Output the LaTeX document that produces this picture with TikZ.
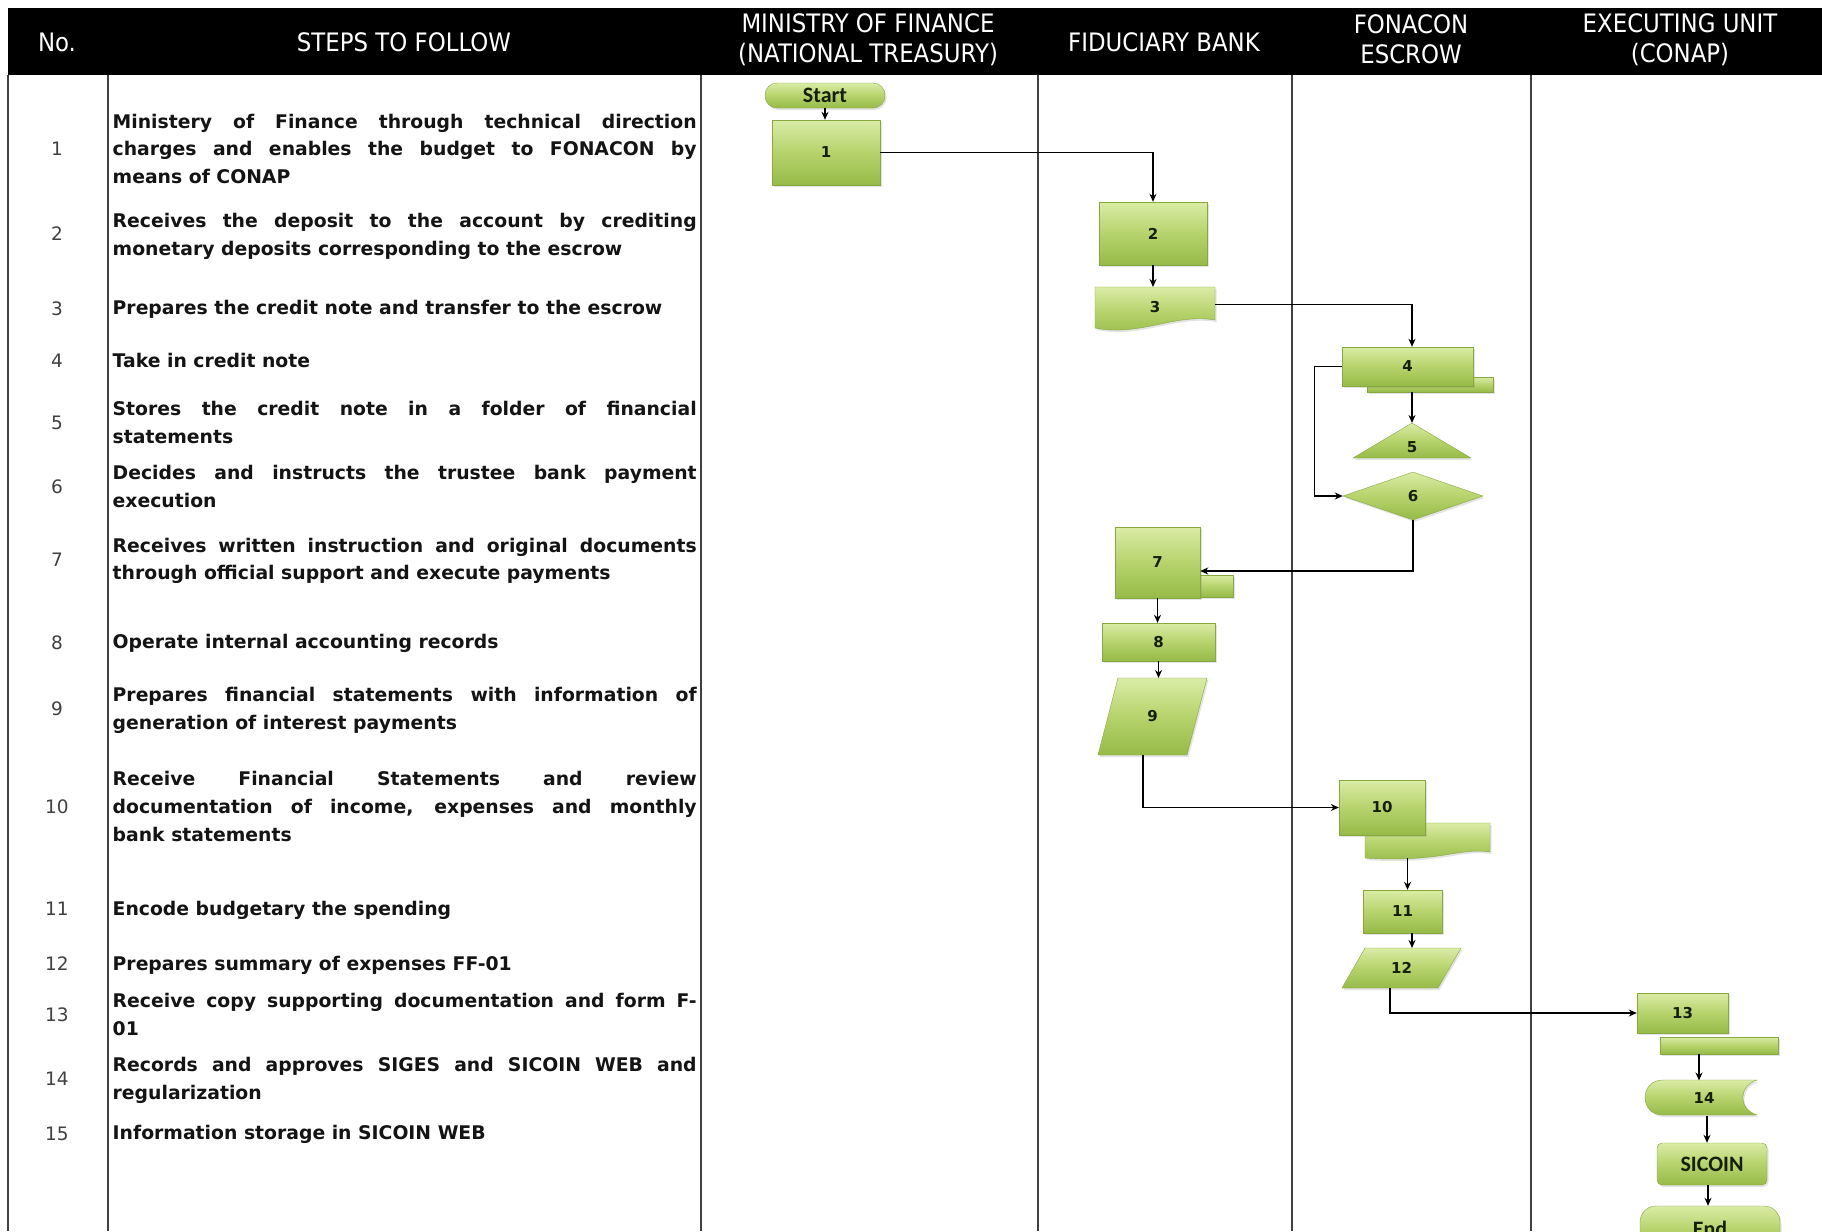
\documentclass[tikz,border=0pt]{standalone}
\usepackage{fontspec}
\setmainfont{DejaVu Sans}
\newfontfamily\txtfamily{DejaVu Sans}
\newfontfamily\hdrfamily[FakeStretch=0.9]{DejaVu Sans}
\newfontfamily\calfamily{Carlito}
\usetikzlibrary{shapes.geometric,shadows,arrows.meta}
\definecolor{gtop}{HTML}{DAECA6}
\definecolor{gmid}{HTML}{B6D36C}
\definecolor{gbot}{HTML}{96BA48}
\definecolor{gedge}{HTML}{86A83E}
\definecolor{lbltext}{HTML}{15200A}
\newcommand\lblf{\txtfamily\bfseries\fontsize{15}{18}\selectfont}
\newcommand\txtf{\txtfamily\bfseries\fontsize{18.8}{27.9}\selectfont}
\newcommand\numf{\txtfamily\fontsize{18.5}{22}\selectfont}
\newcommand\hdrf{\hdrfamily\fontsize{25.4}{30}\selectfont}
\newcommand\calf{\calfamily\bfseries\fontsize{22}{26}\selectfont}
\newcommand\jl[1]{\makebox[584pt][s]{#1}}
\newcommand\steptext[1]{\parbox[t]{584pt}{#1}}
\tikzset{
  gfill/.style={top color=gtop, bottom color=gbot, middle color=gmid, draw=gedge, line width=0.4pt},
  shad/.style={drop shadow={opacity=0.22, shadow xshift=1.5pt, shadow yshift=-2pt}},
  fbox/.style={gfill, shad, rectangle, inner sep=0pt, font=\lblf, text=lbltext},
  lbl/.style={inner sep=0pt, outer sep=0pt, font=\lblf, text=lbltext},
  conn/.style={draw=black, line width=1.3pt, -{Stealth[length=8pt,width=7pt]}},
  gridline/.style={draw=black!75, line width=1.6pt},
  num/.style={anchor=base, font=\numf, text=black!75, inner sep=0pt},
  stxt/.style={anchor=base west, font=\txtf, text=black!92, inner sep=0pt},
  hdr/.style={font=\hdrf, text=white, align=center, inner sep=0pt},
}
\begin{document}
\begin{tikzpicture}[x=1pt,y=-1pt]
\useasboundingbox (0,0) rectangle (1822,1231);
\fill[white] (0,0) rectangle (1822,1231);
% header
\fill[black] (8,8) rectangle (1822,75);
\node[hdr] (hNo) at (57,42) {No.};
\node[hdr] (hSteps) at (404,42) {STEPS TO FOLLOW};
\node[hdr] (hMin) at (868,39.5) {MINISTRY OF FINANCE\\(NATIONAL TREASURY)};
\node[hdr] (hBank) at (1164,42) {FIDUCIARY BANK};
\node[hdr] (hFon) at (1411,39.5) {FONACON\\ESCROW};
\node[hdr] (hExe) at (1680,39.5) {EXECUTING UNIT\\(CONAP)};
% grid
\foreach \gx in {8,108,701,1038,1292,1531} {\draw[gridline] (\gx,75) -- (\gx,1231);}
% numbers
\foreach \nn/\ny in {1/155.7,2/240.6,3/315,4/367,5/429,6/493.5,7/566.5,8/649,9/715,10/813.5,11/915.5,12/970.5,13/1021,14/1085.3,15/1140}
  {\node[num] (num\nn) at (57,\ny) {\nn};}
% step texts
\node[stxt] (s1) at (112.5,128) {\steptext{\jl{Ministery of Finance through technical direction}\\\jl{charges and enables the budget to FONACON by}\\means of CONAP}};
\node[stxt] (s2) at (112.5,227.5) {\steptext{\jl{Receives the deposit to the account by crediting}\\monetary deposits corresponding to the escrow}};
\node[stxt] (s3) at (112.5,314.8) {\steptext{Prepares the credit note and transfer to the escrow}};
\node[stxt] (s4) at (112.5,367) {\steptext{Take in credit note}};
\node[stxt] (s5) at (112.5,415.5) {\steptext{\jl{Stores the credit note in a folder of financial}\\statements}};
\node[stxt] (s6) at (112.5,479.5) {\steptext{\jl{Decides and instructs the trustee bank payment}\\execution}};
\node[stxt] (s7) at (112.5,552) {\steptext{\jl{Receives written instruction and original documents}\\through official support and execute payments}};
\node[stxt] (s8) at (112.5,648.5) {\steptext{Operate internal accounting records}};
\node[stxt] (s9) at (112.5,701.5) {\steptext{\jl{Prepares financial statements with information of}\\generation of interest payments}};
\node[stxt] (s10) at (112.5,785.5) {\steptext{\jl{Receive Financial Statements and review}\\\jl{documentation of income, expenses and monthly}\\bank statements}};
\node[stxt] (s11) at (112.5,915) {\steptext{Encode budgetary the spending}};
\node[stxt] (s12) at (112.5,970.2) {\steptext{Prepares summary of expenses FF-01}};
\node[stxt] (s13) at (112.5,1007.5) {\steptext{\jl{Receive copy supporting documentation and form F-}\\01}};
\node[stxt] (s14) at (112.5,1071.2) {\steptext{\jl{Records and approves SIGES and SICOIN WEB and}\\regularization}};
\node[stxt] (s15) at (112.5,1139) {\steptext{Information storage in SICOIN WEB}};
% custom shapes
\path[gfill,shad] (1095,287) -- (1215,287) -- (1215,320) .. controls (1175,313) and (1140,337) .. (1095,328) -- cycle;
\path[gfill,shad] (1412,423) -- (1471,458) -- (1353,458) -- cycle;
\path[gfill,shad] (1118,678) -- (1207,678) -- (1187,755) -- (1098,755) -- cycle;
\path[gfill,shad] (1365,823) -- (1490,823) -- (1490,852) .. controls (1460,847) and (1440,863) .. (1365,858) -- cycle;
\path[gfill,shad] (1365,948) -- (1461,948) -- (1438,988) -- (1342,988) -- cycle;
\path[gfill,shad] (1663,1080) -- (1757,1080) .. controls (1738,1086) and (1738,1109) .. (1757,1115) -- (1663,1115) .. controls (1639,1115) and (1639,1080) .. (1663,1080) -- cycle;
% nodes
\node[fbox, font=\calf, rounded corners=12pt, minimum width=120pt, minimum height=25pt] (nStart) at (825,95.5) {Start};
\node[fbox, minimum width=108pt, minimum height=65pt] (n1) at (826,152.5) {1};
\node[fbox, minimum width=108pt, minimum height=63pt] (n2) at (1153,233.5) {2};
\node[lbl, minimum width=120pt, minimum height=41pt] (n3) at (1155,307.5) {3};
\node[fbox, minimum width=126pt, minimum height=15pt] (n4x) at (1430,384.5) {};
\node[fbox, minimum width=131pt, minimum height=39pt] (n4) at (1407.5,366.5) {4};
\node[lbl, text height=29.5pt, text depth=5.5pt, minimum width=118pt] (n5) at (1412,440.5) {5};
\node[fbox, diamond, minimum width=140pt, minimum height=48pt] (n6) at (1413,496) {6};
\node[fbox, minimum width=93pt, minimum height=22pt] (n7x) at (1186.5,586) {};
\node[fbox, minimum width=85pt, minimum height=71pt] (n7) at (1157.5,562.5) {7};
\node[fbox, minimum width=113pt, minimum height=38pt] (n8) at (1158.5,642) {8};
\node[lbl, minimum width=109pt, minimum height=77pt] (n9) at (1152.5,716.5) {9};
\node[fbox, minimum width=86pt, minimum height=55pt] (n10) at (1382,807.5) {10};
\coordinate (n10b) at (1407.5,858);
\node[fbox, minimum width=79pt, minimum height=43pt] (n11) at (1402.5,911.5) {11};
\node[lbl, minimum width=119pt, minimum height=40pt] (n12) at (1401.5,968) {12};
\node[fbox, minimum width=118pt, minimum height=17pt] (n13x) at (1719,1045.5) {};
\node[fbox, minimum width=91pt, minimum height=40pt] (n13) at (1682.5,1013) {13};
\node[lbl, minimum width=112pt, minimum height=35pt] (n14) at (1704,1098) {14};
\node[fbox, font=\calf, rounded corners=5pt, minimum width=110pt, minimum height=42pt] (nS) at (1712,1164) {SICOIN};
\node[fbox, font=\calf, rounded corners=16pt, minimum width=140pt, minimum height=46pt] (nEnd) at (1710,1229) {End};
% connectors
\draw[conn] (nStart.south) -- (nStart.south |- n1.north);
\draw[conn] (n1.east) -| (n2.north);
\draw[conn] (n2.south) -- (n2.south |- n3.north);
\draw[conn] ([yshift=3pt]n3.east) -| ([xshift=4.5pt]n4.north);
\draw[conn] ([xshift=-18pt]n4x.south) -- ([xshift=-18pt]n4x.south |- n5.north);
\draw[conn] (n4.west) -- ++(-27,0) |- (n6.west);
\draw[conn] (n6.south) |- ([yshift=-8.5pt]n7.east);
\draw[conn] (n7.south) -- (n7.south |- n8.north);
\draw[conn] (n8.south) -- (n8.south |- n9.north);
\draw[conn] ([xshift=-9.5pt]n9.south) |- (n10.west);
\draw[conn] (n10b) -- (n10b |- n11.north);
\draw[conn] ([xshift=9.5pt]n11.south) -- ([xshift=9.5pt]n11.south |- n12.north);
\draw[conn] ([xshift=-11.5pt]n12.south) |- (n13.west);
\draw[conn] ([xshift=-20pt]n13x.south) -- ([xshift=-20pt]n13x.south |- n14.north);
\draw[conn] ([xshift=3pt]n14.south) -- ([xshift=3pt]n14.south |- nS.north);
\draw[conn] ([xshift=-4pt]nS.south) -- ([xshift=-4pt]nS.south |- nEnd.north);
\end{tikzpicture}
\end{document}
